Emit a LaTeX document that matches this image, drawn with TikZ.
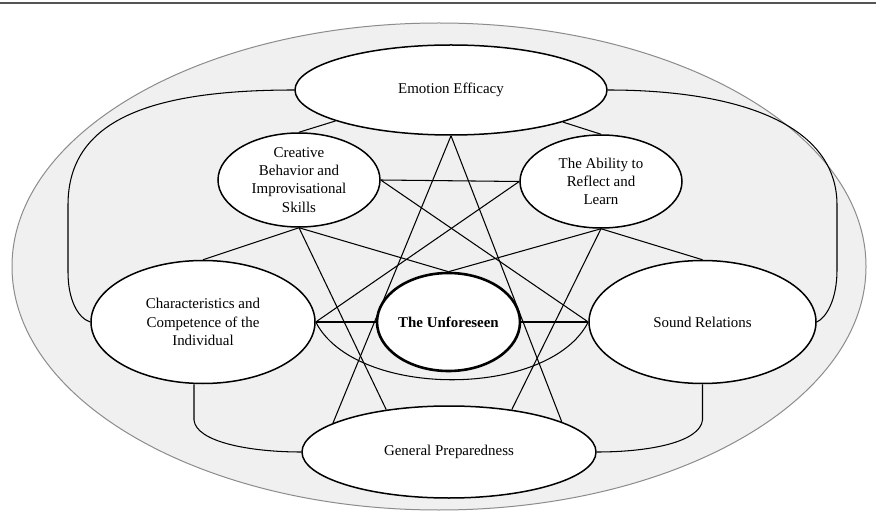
\documentclass[tikz,border=0pt]{standalone}
\usepackage{fontspec}
\setmainfont{Liberation Serif}
\usetikzlibrary{shapes.geometric,calc,backgrounds}
\definecolor{bgfill}{HTML}{F0F0F0}
\definecolor{rimgray}{HTML}{8C8C8C}
\definecolor{toplinegray}{HTML}{555555}
\begin{document}
\begin{tikzpicture}[x=1bp,y=-1bp,
  conc/.style={ellipse, draw=black, fill=white, line width=1.5bp, inner sep=0pt,
    align=center, font=\fontsize{15}{18.3}\selectfont},
  link/.style={draw=black, line width=1.05bp}]
\useasboundingbox (0,0) rectangle (876,513);
% concept nodes
\node[conc, minimum width=312bp, minimum height=90bp] (EE) at (451,90) {Emotion Efficacy};
\node[conc, minimum width=162bp, minimum height=94bp] (CB) at (299,180) {Creative\\Behavior and\\Improvisational\\Skills};
\node[conc, minimum width=162bp, minimum height=93bp] (AR) at (601,181.5) {The Ability to\\Reflect and\\Learn};
\node[conc, minimum width=224bp, minimum height=123bp] (CH) at (203,322) {Characteristics and\\Competence of the\\Individual};
\node[conc, minimum width=143bp, minimum height=98bp, line width=2.6bp,
  font=\fontsize{15}{18.3}\selectfont\bfseries] (UF) at (448.5,322) {The Unforeseen};
\node[conc, minimum width=227bp, minimum height=123bp] (SR) at (702.5,322) {Sound Relations};
\node[conc, minimum width=294bp, minimum height=92bp] (GP) at (449,452) {General Preparedness};
\begin{scope}[on background layer]
  \fill[white] (0,0) rectangle (876,513);
  \draw[toplinegray, line width=1.8bp] (0,3) -- (876,3);
  \draw[rimgray, fill=bgfill, line width=1bp] (439,266.5) ellipse [x radius=427, y radius=243.5];
  % straight connectors
  \draw[link] (EE.195) -- (CB.north);
  \draw[link] (EE.344) -- (AR.north);
  \draw[link] (EE.south) -- (GP.166);
  \draw[link] (EE.south) -- (GP.15);
  \draw[link] (CB.south) -- (CH.north);
  \draw[link] (CB.south) -- (UF.north);
  \draw[link] (CB.south) -- (GP.146);
  \draw[link] (CB.east) -- (AR.west);
  \draw[link] (CB.east) -- (SR.west);
  \draw[link] (AR.south) -- (SR.north);
  \draw[link] (AR.south) -- (UF.north);
  \draw[link] (AR.south) -- (GP.34);
  \draw[link] (AR.west) -- (CH.east);
  \draw[link] (CH.east) -- (UF.west);
  \draw[link] (UF.east) -- (SR.west);
  % curved connectors
  \draw[link] (CH.east) .. controls (355,399) and (549,399) .. (SR.west);
  \coordinate (lt) at (68,205);
  \coordinate (lb) at (68,272);
  \draw[link] (EE.west) .. controls (150,90) and (68,120) .. (lt) -- (lb)
    .. controls (68,300) and (78,318) .. (CH.west);
  \coordinate (rt) at (837,205);
  \coordinate (rb) at (837,270);
  \draw[link] (EE.east) .. controls (740,90) and (837,125) .. (rt) -- (rb)
    .. controls (837,300) and (826,318) .. (SR.east);
  \coordinate (chd) at ($(CH.south)+(-9,0)$);
  \coordinate (chb) at (194,420);
  \draw[link] (chd) -- (chb) .. controls (196,442) and (250,452) .. (GP.west);
  \coordinate (srb) at (702.5,420);
  \draw[link] (SR.south) -- (srb) .. controls (700,442) and (650,452) .. (GP.east);
\end{scope}
\end{tikzpicture}
\end{document}
